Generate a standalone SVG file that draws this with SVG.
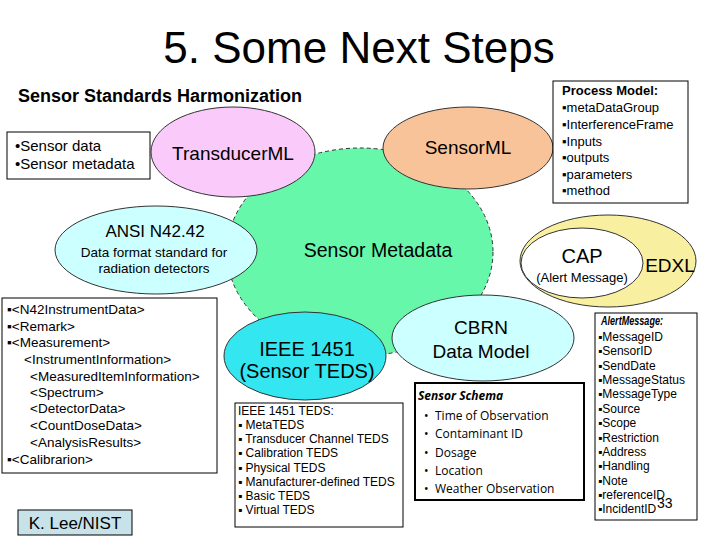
<svg xmlns="http://www.w3.org/2000/svg" width="720" height="540" viewBox="0 0 720 540">
<style>
text{font-family:"Liberation Sans",Arial,sans-serif;fill:#000}
.ell{stroke:#333;stroke-width:1}
.box{fill:#fff;stroke:#000;stroke-width:1}
.c{text-anchor:middle}
.t13{font-size:13.5px}
.t12{font-size:12px}
.os{font-family:"Open Sans","DejaVu Sans",sans-serif;font-size:12px}
</style>
<rect width="720" height="540" fill="#fff"/>
<g id="title">
<text x="359" y="63" class="c" font-size="44">5. Some Next Steps</text>
</g>
<g id="subtitle">
<text x="18" y="102" font-size="18" font-weight="bold">Sensor Standards Harmonization</text>
</g>
<g id="connectors"></g>
<g id="sensor-metadata">
<ellipse cx="360" cy="252" rx="133" ry="104" fill="#66F7AA" stroke="#333" stroke-width="1" stroke-dasharray="4,3"/>
<text x="378" y="257" class="c" font-size="19.5" fill="#111">Sensor Metadata</text>
</g>
<g id="sensor-data-box">
<rect x="7" y="132" width="143" height="47" class="box"/>
<text x="15" y="151" font-size="15">•Sensor data</text>
<text x="15" y="169" font-size="15">•Sensor metadata</text>
</g>
<g id="transducerml">
<ellipse cx="233" cy="152" rx="82" ry="45" fill="#FACAFA" class="ell"/>
<text x="233" y="160" class="c" font-size="19">TransducerML</text>
</g>
<g id="sensorml">
<ellipse cx="468" cy="148" rx="85" ry="41" fill="#F9C39A" class="ell"/>
<text x="468" y="154" class="c" font-size="19">SensorML</text>
</g>
<g id="process-model">
<rect x="553" y="81" width="135" height="122" class="box"/>
<text x="562" y="95" font-size="13" font-weight="bold">Process Model:</text>
<text x="562" y="112" font-size="13">▪metaDataGroup</text>
<text x="562" y="129" font-size="13">▪InterferenceFrame</text>
<text x="562" y="146" font-size="13">▪Inputs</text>
<text x="562" y="162" font-size="13">▪outputs</text>
<text x="562" y="179" font-size="13">▪parameters</text>
<text x="562" y="195" font-size="13">▪method</text>
</g>
<g id="ansi-n42">
<ellipse cx="156" cy="250" rx="101" ry="44" fill="#CCFFFF" class="ell"/>
<text x="155" y="237" class="c" font-size="17">ANSI N42.42</text>
<text x="154" y="257" class="c" font-size="13.5">Data format standard for</text>
<text x="154" y="273" class="c" font-size="13.5">radiation detectors</text>
</g>
<g id="cap-edxl">
<ellipse cx="608" cy="261" rx="88" ry="46" fill="#F8F0A0" class="ell"/>
<ellipse cx="582" cy="263" rx="61" ry="35" fill="#fff" class="ell"/>
<text x="582" y="263" class="c" font-size="20">CAP</text>
<text x="582" y="282" class="c" font-size="13">(Alert Message)</text>
<text x="670" y="272" class="c" font-size="19">EDXL</text>
</g>
<g id="n42-box">
<rect x="2" y="298" width="215" height="175" class="box"/>
<text x="7" y="314" class="t13">▪&lt;N42InstrumentData&gt;</text>
<text x="7" y="331" class="t13">▪&lt;Remark&gt;</text>
<text x="7" y="347" class="t13">▪&lt;Measurement&gt;</text>
<text x="24" y="364" class="t13">&lt;InstrumentInformation&gt;</text>
<text x="30" y="381" class="t13">&lt;MeasuredItemInformation&gt;</text>
<text x="30" y="397" class="t13">&lt;Spectrum&gt;</text>
<text x="30" y="413" class="t13">&lt;DetectorData&gt;</text>
<text x="30" y="430" class="t13">&lt;CountDoseData&gt;</text>
<text x="30" y="447" class="t13">&lt;AnalysisResults&gt;</text>
<text x="7" y="464" class="t13">▪&lt;Calibrarion&gt;</text>
</g>
<g id="ieee1451">
<ellipse cx="305" cy="356" rx="81" ry="44" fill="#33E6F0" class="ell"/>
<text x="307" y="356" class="c" font-size="20">IEEE 1451</text>
<text x="307" y="378" class="c" font-size="20">(Sensor TEDS)</text>
</g>
<g id="teds-box">
<rect x="235" y="403" width="168" height="124" class="box"/>
<text x="238" y="415" class="t12">IEEE 1451 TEDS:</text>
<text x="238" y="429" class="t12">▪ MetaTEDS</text>
<text x="238" y="443" class="t12">▪ Transducer Channel TEDS</text>
<text x="238" y="457" class="t12">▪ Calibration TEDS</text>
<text x="238" y="472" class="t12">▪ Physical TEDS</text>
<text x="238" y="486" class="t12">▪ Manufacturer-defined TEDS</text>
<text x="238" y="500" class="t12">▪ Basic TEDS</text>
<text x="238" y="514" class="t12">▪ Virtual TEDS</text>
</g>
<g id="cbrn">
<ellipse cx="483" cy="338" rx="91" ry="43" fill="#CCFFFF" class="ell"/>
<text x="481" y="334" class="c" font-size="19">CBRN</text>
<text x="481" y="358" class="c" font-size="19">Data Model</text>
</g>
<g id="sensor-schema">
<rect x="415" y="383" width="169" height="117" fill="#fff" stroke="#000" stroke-width="2"/>
<text x="418" y="400" class="os" font-weight="bold" font-style="italic">Sensor Schema</text>
<text x="424" y="420" class="os">•</text><text x="435" y="420" class="os">Time of Observation</text>
<text x="424" y="438" class="os">•</text><text x="435" y="438" class="os">Contaminant ID</text>
<text x="424" y="457" class="os">•</text><text x="435" y="457" class="os">Dosage</text>
<text x="424" y="475" class="os">•</text><text x="435" y="475" class="os">Location</text>
<text x="424" y="493" class="os">•</text><text x="435" y="493" class="os">Weather Observation</text>
</g>
<g id="alert-message">
<rect x="595" y="313" width="102" height="207" class="box"/>
<text x="601" y="325" class="t12" font-weight="bold" font-style="italic" textLength="62" lengthAdjust="spacingAndGlyphs">AlertMessage:</text>
<text x="598" y="341" class="t12">▪MessageID</text>
<text x="598" y="355" class="t12">▪SensorID</text>
<text x="598" y="370" class="t12">▪SendDate</text>
<text x="598" y="384" class="t12">▪MessageStatus</text>
<text x="598" y="398" class="t12">▪MessageType</text>
<text x="598" y="413" class="t12">▪Source</text>
<text x="598" y="427" class="t12">▪Scope</text>
<text x="598" y="442" class="t12">▪Restriction</text>
<text x="598" y="456" class="t12">▪Address</text>
<text x="598" y="470" class="t12">▪Handling</text>
<text x="598" y="485" class="t12">▪Note</text>
<text x="598" y="499" class="t12">▪referenceID</text>
<text x="598" y="513" class="t12">▪IncidentID</text>
<text x="657" y="508" font-size="14">33</text>
</g>
<g id="author">
<rect x="18" y="510" width="114" height="25" fill="#C8E2EA" stroke="#000" stroke-width="1"/>
<text x="75" y="529" class="c" font-size="17">K. Lee/NIST</text>
</g>
</svg>
